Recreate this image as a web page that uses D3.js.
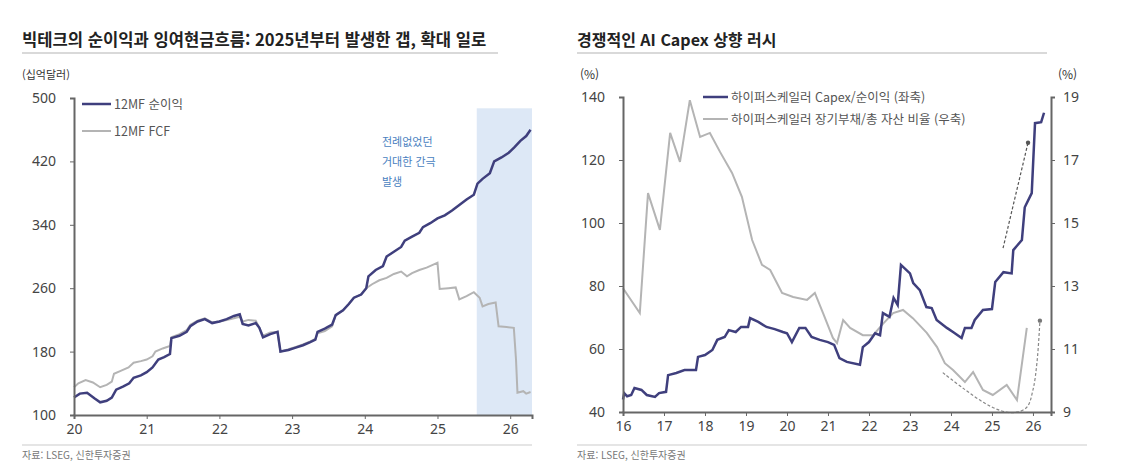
<!DOCTYPE html>
<html lang="ko">
<head>
<meta charset="UTF-8">
<title>빅테크 순이익과 FCF / AI Capex</title>
<script src="https://d3js.org/d3.v7.min.js"></script>
<style>
  body { margin: 0; background: #fff; font-family: "Noto Sans CJK KR", "Noto Sans", sans-serif; }
  svg text { fill: #333; }
</style>
</head>
<body>
<svg id="chart" width="1125" height="461"></svg>
<script>
// ---- left chart: 12MF net income vs 12MF FCF (십억달러) ----
const leftYTicks = [100, 180, 260, 340, 420, 500];
const leftXTicks = [2020, 2021, 2022, 2023, 2024, 2025, 2026];
const netIncome = [
  [2020.00,122],[2020.08,127],[2020.18,128],[2020.28,121],[2020.36,116],[2020.45,118],[2020.52,122],
  [2020.58,132],[2020.68,136],[2020.76,140],[2020.82,147],[2020.92,150],[2021.00,154],[2021.08,160],
  [2021.16,170],[2021.24,173],[2021.32,177],[2021.34,197],[2021.45,200],[2021.55,205],[2021.60,212],
  [2021.70,218],[2021.80,221],[2021.90,216],[2022.00,218],[2022.10,221],[2022.20,225],[2022.28,227],
  [2022.32,215],[2022.40,213],[2022.50,216],[2022.55,210],[2022.60,198],[2022.70,202],[2022.80,205],
  [2022.84,180],[2022.95,182],[2023.05,185],[2023.15,188],[2023.25,192],[2023.32,195],[2023.35,205],
  [2023.45,209],[2023.55,214],[2023.60,226],[2023.70,232],[2023.78,240],[2023.85,248],[2023.95,252],
  [2024.02,260],[2024.05,275],[2024.15,283],[2024.25,288],[2024.30,300],[2024.40,306],[2024.50,312],
  [2024.55,320],[2024.65,325],[2024.75,330],[2024.80,337],[2024.90,342],[2025.00,348],[2025.10,352],
  [2025.20,358],[2025.30,365],[2025.40,372],[2025.50,378],[2025.55,392],[2025.62,398],[2025.72,405],
  [2025.78,420],[2025.88,425],[2025.98,431],[2026.06,438],[2026.14,446],[2026.22,452],[2026.28,460]
];
const fcf = [
  [2020.00,135],[2020.06,140],[2020.16,144],[2020.26,141],[2020.36,135],[2020.45,138],[2020.52,142],
  [2020.55,152],[2020.65,156],[2020.75,160],[2020.82,166],[2020.92,168],[2021.00,170],[2021.08,174],
  [2021.12,180],[2021.22,184],[2021.32,187],[2021.34,198],[2021.45,202],[2021.55,207],[2021.60,214],
  [2021.70,219],[2021.80,222],[2021.90,217],[2022.00,218],[2022.10,220],[2022.20,222],[2022.28,224],
  [2022.32,218],[2022.40,220],[2022.50,219],[2022.55,210],[2022.60,200],[2022.70,204],[2022.80,205],
  [2022.84,180],[2022.95,183],[2023.05,186],[2023.15,189],[2023.25,193],[2023.32,196],[2023.35,203],
  [2023.45,206],[2023.55,212],[2023.60,226],[2023.70,232],[2023.78,240],[2023.85,248],[2023.95,252],
  [2024.02,260],[2024.10,265],[2024.20,270],[2024.30,273],[2024.40,278],[2024.50,281],[2024.58,275],
  [2024.65,279],[2024.75,283],[2024.85,286],[2024.95,290],[2025.00,292],[2025.03,259],[2025.15,260],
  [2025.25,261],[2025.30,246],[2025.40,250],[2025.50,255],[2025.58,248],[2025.62,237],[2025.70,240],
  [2025.80,242],[2025.84,212],[2025.95,211],[2026.05,210],[2026.08,170],[2026.10,128],[2026.18,130],
  [2026.22,127],[2026.28,129]
];
const gapBand = [2025.54, 2026.3, 487];
const gapNote = ["전례없었던", "거대한 간극", "발생"];

// ---- right chart: hyperscaler Capex/net income (L) vs LT debt/total assets (R) ----
const rightYTicksL = [40, 60, 80, 100, 120, 140];
const rightYTicksR = [9, 11, 13, 15, 17, 19];
const rightXTicks = d3.range(2016, 2027);
const capexRatio = [
  [2016.00,44],[2016.03,46],[2016.10,45],[2016.20,45.4],[2016.28,47.6],[2016.45,47],[2016.58,45.4],
  [2016.78,44.8],[2016.88,46],[2017.05,46.4],[2017.10,51.7],[2017.30,52.4],[2017.50,53.3],[2017.78,53.3],
  [2017.83,57.5],[2018.00,58.1],[2018.18,59.7],[2018.30,62.9],[2018.48,63.8],[2018.58,66],[2018.75,65.4],
  [2018.88,67],[2019.05,67],[2019.10,69.8],[2019.30,68.6],[2019.50,67],[2019.70,66.3],[2019.90,65.4],
  [2020.00,65],[2020.12,62.2],[2020.30,66.7],[2020.45,66.7],[2020.60,63.8],[2020.80,62.9],[2021.00,62.2],
  [2021.15,61.3],[2021.28,57.1],[2021.46,55.9],[2021.78,55],[2021.85,60.6],[2022.00,62.2],[2022.15,65],
  [2022.27,64.4],[2022.34,71.4],[2022.50,70.2],[2022.60,76.2],[2022.70,74],[2022.78,86.7],[2023.00,84],
  [2023.08,80.9],[2023.24,78.7],[2023.40,73.3],[2023.53,73],[2023.65,69.2],[2023.90,66.7],[2024.05,65.4],
  [2024.26,63.5],[2024.34,66.7],[2024.50,66.7],[2024.58,69.2],[2024.78,72.4],[2025.00,72.7],[2025.08,81.3],
  [2025.28,84.4],[2025.48,84],[2025.52,91.4],[2025.73,94.6],[2025.80,105],[2025.97,109.5],[2026.05,131.7],
  [2026.20,132],[2026.27,135]
];
const debtRatio = [
  [2016.00,12.93],[2016.41,12.14],[2016.61,15.95],[2016.90,14.78],[2017.15,17.86],[2017.39,16.94],
  [2017.63,18.9],[2017.88,17.73],[2018.12,17.86],[2018.37,17.25],[2018.66,16.59],[2018.90,15.83],
  [2019.15,14.46],[2019.39,13.67],[2019.59,13.51],[2019.88,12.78],[2020.15,12.65],[2020.49,12.56],
  [2020.68,12.78],[2020.88,12.14],[2021.12,11.35],[2021.22,11.19],[2021.37,11.92],[2021.54,11.67],
  [2021.85,11.44],[2022.10,11.44],[2022.34,11.8],[2022.59,12.14],[2022.83,12.24],[2023.07,11.98],
  [2023.41,11.51],[2023.66,11.06],[2023.85,10.55],[2024.05,10.33],[2024.34,9.95],[2024.54,10.27],
  [2024.78,9.7],[2025.02,9.54],[2025.36,9.86],[2025.61,9.38],[2025.85,11.67]
];
// hand-drawn trend guides
const capexTrend = [[2025.27,92],[2025.88,125.5]];
const debtTrend = [[2023.8,10.25],[2024.3,9.75],[2024.8,9.3],[2025.2,9.05],[2025.55,8.98],
  [2025.85,9.15],[2026.0,9.7],[2026.1,10.6],[2026.17,11.9]];

const navy = "#3f3f7d", grey = "#b4b4b4", axisCol = "#666";
const svg = d3.select("#chart");

function title(x, y, w, txt, fs) {
  svg.append("text").attr("x", x).attr("y", y).attr("font-size", fs).attr("font-weight", 700)
    .style("fill", "#222").text(txt);
  svg.append("line").attr("x1", x).attr("x2", x + w).attr("y1", 53).attr("y2", 53)
    .attr("stroke", "#ccc").attr("stroke-width", 1.5);
}
function source(x, w) {
  svg.append("line").attr("x1", x).attr("x2", x + w).attr("y1", 445).attr("y2", 445)
    .attr("stroke", "#ddd").attr("stroke-width", 1.5);
  svg.append("text").attr("x", x).attr("y", 459).attr("font-size", 10).style("fill", "#777")
    .text("자료: LSEG, 신한투자증권");
}
function styleAxis(g) {
  g.select(".domain").attr("stroke", axisCol).attr("stroke-width", 2);
  g.selectAll(".tick line").attr("stroke", axisCol);
  g.selectAll(".tick text").attr("font-size", 14).attr("font-family", "Noto Sans, sans-serif").style("fill", "#444");
}

// ======== LEFT ========
const xL = d3.scaleLinear().domain([2020, 2026.3]).range([74, 532]);
const yL = d3.scaleLinear().domain([100, 500]).range([415, 98]);

title(22, 46, 476, "빅테크의 순이익과 잉여현금흐름: 2025년부터 발생한 갭, 확대 일로", 16.6);
svg.append("text").attr("x", 22).attr("y", 79).attr("font-size", 11).text("(십억달러)");

svg.append("rect").attr("x", xL(gapBand[0])).attr("y", yL(gapBand[2]))
  .attr("width", xL(gapBand[1]) - xL(gapBand[0])).attr("height", yL(100) - yL(gapBand[2]))
  .attr("fill", "#dde8f6");

const lineL = d3.line().x(d => xL(d[0])).y(d => yL(d[1]));
svg.append("path").datum(fcf).attr("d", lineL).attr("fill", "none").attr("stroke", grey).attr("stroke-width", 2);
svg.append("path").datum(netIncome).attr("d", lineL).attr("fill", "none").attr("stroke", navy).attr("stroke-width", 2.5);

svg.append("g").attr("transform", "translate(74,0)")
  .call(d3.axisLeft(yL).tickValues(leftYTicks).tickSize(4).tickPadding(14)).call(styleAxis);
svg.append("g").attr("transform", "translate(0,415)")
  .call(d3.axisBottom(xL).tickValues(leftXTicks).tickSize(4).tickPadding(5).tickFormat(d => String(d).slice(2)))
  .call(styleAxis);

gapNote.forEach((t, i) => svg.append("text").attr("x", 382).attr("y", 146 + i * 20)
  .attr("font-size", 11).style("fill", "#4a7fc0").text(t));

const legL = [["12MF 순이익", navy, 2.5], ["12MF FCF", grey, 2]];
legL.forEach((d, i) => {
  const y = 104 + i * 27;
  svg.append("line").attr("x1", 82).attr("x2", 111).attr("y1", y).attr("y2", y).attr("stroke", d[1]).attr("stroke-width", d[2]);
  svg.append("text").attr("x", 114).attr("y", y + 4.5).attr("font-size", 12.5).style("fill", "#555").text(d[0]);
});
source(22, 510);

// ======== RIGHT ========
const xR = d3.scaleLinear().domain([2016, 2026.44]).range([623, 1051]);
const yRL = d3.scaleLinear().domain([40, 140]).range([412, 97]);
const yRR = d3.scaleLinear().domain([9, 19]).range([412, 97]);

title(577, 46, 470, "경쟁적인 AI Capex 상향 러시", 16);
svg.append("text").attr("x", 580).attr("y", 79).attr("font-size", 12).text("(%)");
svg.append("text").attr("x", 1058).attr("y", 79).attr("font-size", 12).text("(%)");

const lineRL = d3.line().x(d => xR(d[0])).y(d => yRL(d[1]));
const lineRR = d3.line().x(d => xR(d[0])).y(d => yRR(d[1]));
svg.append("path").datum(debtRatio).attr("d", lineRR).attr("fill", "none").attr("stroke", grey).attr("stroke-width", 2);
svg.append("path").datum(capexRatio).attr("d", lineRL).attr("fill", "none").attr("stroke", navy).attr("stroke-width", 2.5);

// trend guides
svg.append("path").datum(capexTrend).attr("d", lineRL).attr("fill", "none")
  .attr("stroke", "#555").attr("stroke-width", 1.2).attr("stroke-dasharray", "3,2");
svg.append("circle").attr("cx", xR(capexTrend[1][0])).attr("cy", yRL(capexTrend[1][1])).attr("r", 2.2).attr("fill", "#555");
svg.append("path").datum(debtTrend).attr("d", d3.line().curve(d3.curveCatmullRom).x(d => xR(d[0])).y(d => yRR(d[1])))
  .attr("fill", "none").attr("stroke", "#888").attr("stroke-width", 1.2).attr("stroke-dasharray", "3,2");
const dEnd = debtTrend[debtTrend.length - 1];
svg.append("circle").attr("cx", xR(dEnd[0])).attr("cy", yRR(dEnd[1])).attr("r", 2.2).attr("fill", "#777");

svg.append("g").attr("transform", "translate(623,0)")
  .call(d3.axisLeft(yRL).tickValues(rightYTicksL).tickSize(4).tickPadding(14)).call(styleAxis);
svg.append("g").attr("transform", "translate(1051,0)")
  .call(d3.axisRight(yRR).tickValues(rightYTicksR).tickSize(4).tickPadding(8)).call(styleAxis);
svg.append("g").attr("transform", "translate(0,412)")
  .call(d3.axisBottom(xR).tickValues(rightXTicks).tickSize(4).tickPadding(5).tickFormat(d => String(d).slice(2)))
  .call(styleAxis);

const legR = [["하이퍼스케일러 Capex/순이익 (좌축)", navy, 2.5], ["하이퍼스케일러 장기부채/총 자산 비율 (우축)", grey, 2]];
legR.forEach((d, i) => {
  const y = 97 + i * 22;
  svg.append("line").attr("x1", 703).attr("x2", 728).attr("y1", y).attr("y2", y).attr("stroke", d[1]).attr("stroke-width", d[2]);
  svg.append("text").attr("x", 731).attr("y", y + 4.5).attr("font-size", 12.5).style("fill", "#555").text(d[0]);
});
source(577, 510);
</script>
</body>
</html>
